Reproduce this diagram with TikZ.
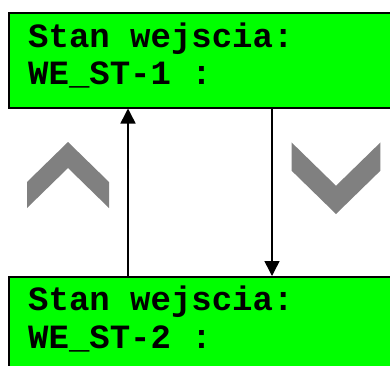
\documentclass[tikz,border=0pt]{standalone}
\usepackage{fontspec}
\setmonofont{Liberation Mono}
\usetikzlibrary{arrows.meta}

\begin{document}
\begin{tikzpicture}[x=1pt, y=-1pt]
            \tikzset{
                lcd/.style = {draw, fill = green!100, line width = 1.5pt,
                    minimum width = 400pt, minimum height = 95pt,
                    anchor = north west, inner sep = 0pt},
                lcd-line/.style = {font = \ttfamily\bfseries\fontsize{34}{37}\selectfont,
                    anchor = base west, inner sep = 0pt},
                flow/.style = {line width = 1.5pt, -{Triangle[width = 15pt, length = 15pt]}},
                chevron/.pic = {
                    \fill[gray] (-41, 40) -- (0, 0) -- (41, 40) -- (41, 66)
                        -- (0, 26) -- (-41, 66) -- cycle;
                }
            }
            \clip (0, 0) rectangle (390, 365);
            \fill[white] (0, 0) rectangle (390, 365);

            \node[lcd] (st1) at (8, 12) {};
            \node[lcd, minimum height = 120pt] (st2) at (8, 276) {};

            \node[lcd-line] (st1-a) at (28, 47) {Stan wejscia:};
            \node[lcd-line] (st1-b) at (28, 84) {WE\_ST-1 :};
            \node[lcd-line] (st2-a) at (28, 310) {Stan wejscia:};
            \node[lcd-line] (st2-b) at (28, 348) {WE\_ST-2 :};

            \pic at (68, 142) {chevron};
            \pic[yscale = -1, scale = 1.085] at (336, 214) {chevron};

            \coordinate (up) at (128, 0);
            \coordinate (down) at (272, 0);
            \draw[flow] (up |- st2.north) -- (up |- st1.south);
            \draw[flow] (down |- st1.south) -- (down |- st2.north);
        \end{tikzpicture}
\end{document}
